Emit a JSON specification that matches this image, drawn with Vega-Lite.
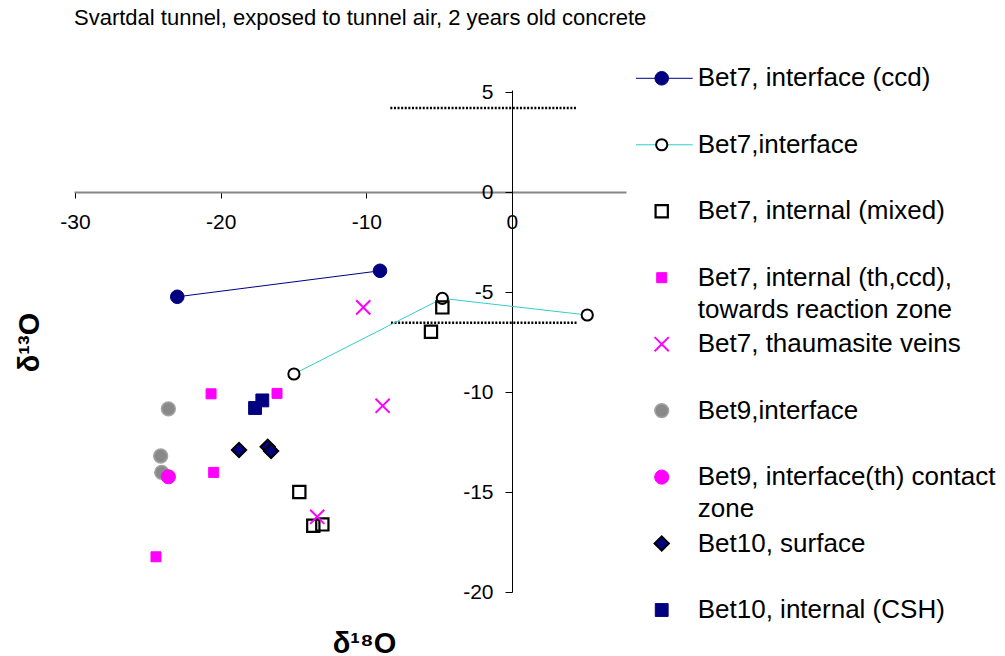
{
  "$schema": "https://vega.github.io/schema/vega-lite/v6.json",
  "width": 552,
  "height": 502,
  "autosize": {"type": "none"},
  "padding": {"left": 74, "top": 90, "right": 379, "bottom": 64},
  "title": {
    "text": "Svartdal tunnel, exposed to tunnel air, 2 years old concrete",
    "anchor": "start",
    "frame": "group",
    "fontSize": 22,
    "fontWeight": "normal",
    "color": "#000000",
    "baseline": "alphabetic",
    "offset": 18
  },
  "config": {
    "view": {"stroke": null},
    "font": "Liberation Sans",
    "axis": {"labelFont": "Liberation Sans", "titleFont": "Liberation Sans"},
    "text": {"font": "Liberation Sans"},
    "title": {"font": "Liberation Sans"}
  },
  "datasets": {
    "points": [
      {"series": "Bet7, interface (ccd)", "x": -22.98, "y": -5.24},
      {"series": "Bet7, interface (ccd)", "x": -9.06, "y": -3.94},
      {"series": "Bet7,interface", "x": -14.97, "y": -9.1},
      {"series": "Bet7,interface", "x": -4.78, "y": -5.32},
      {"series": "Bet7,interface", "x": 5.17, "y": -6.15},
      {"series": "Bet7, internal (mixed)", "x": -4.78, "y": -5.77},
      {"series": "Bet7, internal (mixed)", "x": -5.56, "y": -6.99},
      {"series": "Bet7, internal (mixed)", "x": -14.6, "y": -15.0},
      {"series": "Bet7, internal (mixed)", "x": -13.64, "y": -16.69},
      {"series": "Bet7, internal (mixed)", "x": -13.02, "y": -16.62},
      {"series": "Bet7, internal (th,ccd), towards reaction zone", "x": -20.66, "y": -10.09},
      {"series": "Bet7, internal (th,ccd), towards reaction zone", "x": -16.13, "y": -10.07},
      {"series": "Bet7, internal (th,ccd), towards reaction zone", "x": -20.48, "y": -14.02},
      {"series": "Bet7, internal (th,ccd), towards reaction zone", "x": -24.44, "y": -18.24},
      {"series": "Bet7, thaumasite veins", "x": -10.21, "y": -5.77},
      {"series": "Bet7, thaumasite veins", "x": -8.88, "y": -10.69},
      {"series": "Bet7, thaumasite veins", "x": -13.37, "y": -16.24},
      {"series": "Bet9,interface", "x": -23.59, "y": -10.84},
      {"series": "Bet9,interface", "x": -24.12, "y": -13.2},
      {"series": "Bet9,interface", "x": -24.05, "y": -14.02},
      {"series": "Bet9, interface(th) contact zone", "x": -23.59, "y": -14.24},
      {"series": "Bet10, surface", "x": -18.74, "y": -12.9},
      {"series": "Bet10, surface", "x": -16.77, "y": -12.74},
      {"series": "Bet10, surface", "x": -16.54, "y": -12.95},
      {"series": "Bet10, internal (CSH)", "x": -17.14, "y": -10.42},
      {"series": "Bet10, internal (CSH)", "x": -17.64, "y": -10.8}
    ],
    "refs": [
      {"x": -8.35, "x2": 4.46, "y": 4.2},
      {"x": -8.31, "x2": 4.44, "y": -6.54}
    ],
    "legend": [
      {"series": "Bet7, interface (ccd)", "label": "Bet7, interface (ccd)", "row": 0},
      {"series": "Bet7,interface", "label": "Bet7,interface", "row": 1},
      {"series": "Bet7, internal (mixed)", "label": "Bet7, internal (mixed)", "row": 2},
      {"series": "Bet7, internal (th,ccd), towards reaction zone", "label": "Bet7, internal (th,ccd),\ntowards reaction zone", "row": 3},
      {"series": "Bet7, thaumasite veins", "label": "Bet7, thaumasite veins", "row": 4},
      {"series": "Bet9,interface", "label": "Bet9,interface", "row": 5},
      {"series": "Bet9, interface(th) contact zone", "label": "Bet9, interface(th) contact\nzone", "row": 6},
      {"series": "Bet10, surface", "label": "Bet10, surface", "row": 7},
      {"series": "Bet10, internal (CSH)", "label": "Bet10, internal (CSH)", "row": 8}
    ],
    "legendLines": [
      {"series": "Bet7, interface (ccd)", "row": 0},
      {"series": "Bet7,interface", "row": 1}
    ]
  },
  "layer": [
    {
      "layer": [
        {
          "mark": {"type": "rule", "color": "#868686", "strokeWidth": 2},
          "encoding": {"y": {"datum": 5.1, "type": "quantitative"}}
        },
        {
          "mark": {"type": "rule", "color": "#868686", "strokeWidth": 2},
          "encoding": {"y": {"datum": -20, "type": "quantitative"}}
        },
        {
          "mark": {"type": "rule", "color": "#868686", "strokeWidth": 2},
          "encoding": {"x": {"datum": -30.07, "type": "quantitative"}}
        },
        {
          "data": {"name": "refs"},
          "mark": {"type": "rule", "color": "#000000", "strokeWidth": 2.5, "strokeDash": [2, 1.6]},
          "encoding": {
            "x": {"field": "x", "type": "quantitative"},
            "x2": {"field": "x2"},
            "y": {"field": "y", "type": "quantitative"}
          }
        },
        {
          "data": {"name": "points"},
          "transform": [{"filter": "datum.series === 'Bet7, interface (ccd)' || datum.series === 'Bet7,interface'"}],
          "mark": {"type": "line", "strokeWidth": 1},
          "encoding": {
            "x": {"field": "x", "type": "quantitative"},
            "y": {"field": "y", "type": "quantitative"},
            "color": {
              "field": "series", "type": "nominal", "legend": null,
              "scale": {"domain": ["Bet7, interface (ccd)", "Bet7,interface"], "range": ["#000080", "#33CCCC"]}
            }
          }
        },
        {
          "data": {"name": "points"},
          "mark": {"type": "point", "opacity": 1},
          "encoding": {
            "x": {
              "field": "x", "type": "quantitative",
              "scale": {"domain": [-30.07, 7.83], "nice": false, "zero": false},
              "axis": {
                "orient": "bottom", "offset": -400, "values": [-30, -20, -10, 0], "grid": false,
                "domainColor": "#868686", "domainWidth": 2, "tickColor": "#000000", "tickWidth": 1, "tickSize": 6,
                "labelFontSize": 21, "labelColor": "#000000", "labelPadding": 13, "labelFlush": false, "labelOverlap": false,
                "labelExpr": "toString(datum.value)",
                "title": "δ¹⁸O", "titleFontSize": 29, "titleFontWeight": "bold", "titleColor": "#000000",
                "titleX": 290, "titleY": 460, "titleAlign": "center", "titleBaseline": "alphabetic"
              }
            },
            "y": {
              "field": "y", "type": "quantitative",
              "scale": {"domain": [-20, 5.1], "nice": false, "zero": false},
              "axis": {
                "orient": "left", "offset": -438, "values": [-20, -15, -10, -5, 0, 5], "grid": false,
                "domainColor": "#000000", "domainWidth": 1, "tickColor": "#000000", "tickWidth": 1, "tickSize": 7,
                "labelFontSize": 21, "labelColor": "#000000", "labelPadding": 12, "labelFlush": false, "labelOverlap": false,
                "labelExpr": "toString(datum.value)",
                "title": "δ¹³O", "titleFontSize": 29, "titleFontWeight": "bold", "titleColor": "#000000",
                "titleX": -474, "titleY": 252, "titleAngle": 270, "titleAlign": "center", "titleBaseline": "alphabetic"
              }
            },
            "shape": {
              "field": "series", "type": "nominal", "legend": null,
              "scale": {
                "domain": ["Bet7, interface (ccd)", "Bet7,interface", "Bet7, internal (mixed)", "Bet7, internal (th,ccd), towards reaction zone", "Bet7, thaumasite veins", "Bet9,interface", "Bet9, interface(th) contact zone", "Bet10, surface", "Bet10, internal (CSH)"],
                "range": ["circle", "circle", "square", "square", "M-1,-1L1,1M-1,1L1,-1", "circle", "circle", "diamond", "square"]
              }
            },
            "fill": {
              "field": "series", "type": "nominal", "legend": null,
              "scale": {
                "domain": ["Bet7, interface (ccd)", "Bet7,interface", "Bet7, internal (mixed)", "Bet7, internal (th,ccd), towards reaction zone", "Bet7, thaumasite veins", "Bet9,interface", "Bet9, interface(th) contact zone", "Bet10, surface", "Bet10, internal (CSH)"],
                "range": ["#000080", "#FFFFFF", "transparent", "#FF00FF", "transparent", "#898989", "#FF00FF", "#000080", "#000080"]
              }
            },
            "stroke": {
              "field": "series", "type": "nominal", "legend": null,
              "scale": {
                "domain": ["Bet7, interface (ccd)", "Bet7,interface", "Bet7, internal (mixed)", "Bet7, internal (th,ccd), towards reaction zone", "Bet7, thaumasite veins", "Bet9,interface", "Bet9, interface(th) contact zone", "Bet10, surface", "Bet10, internal (CSH)"],
                "range": ["#000080", "#000000", "#000000", "#FF00FF", "#FF00FF", "#A3A3A3", "#FF00FF", "#000000", "#000080"]
              }
            },
            "size": {
              "field": "series", "type": "nominal", "legend": null,
              "scale": {
                "type": "ordinal",
                "domain": ["Bet7, interface (ccd)", "Bet7,interface", "Bet7, internal (mixed)", "Bet7, internal (th,ccd), towards reaction zone", "Bet7, thaumasite veins", "Bet9,interface", "Bet9, interface(th) contact zone", "Bet10, surface", "Bet10, internal (CSH)"],
                "range": [185, 125, 150, 100, 200, 190, 200, 205, 165]
              }
            },
            "strokeWidth": {
              "field": "series", "type": "nominal", "legend": null,
              "scale": {
                "type": "ordinal",
                "domain": ["Bet7, interface (ccd)", "Bet7,interface", "Bet7, internal (mixed)", "Bet7, internal (th,ccd), towards reaction zone", "Bet7, thaumasite veins", "Bet9,interface", "Bet9, interface(th) contact zone", "Bet10, surface", "Bet10, internal (CSH)"],
                "range": [1, 2, 2.2, 1, 2, 1.5, 1, 2, 1]
              }
            }
          }
        }
      ]
    },
    {
      "layer": [
        {
          "data": {"name": "legendLines"},
          "mark": {"type": "rule", "strokeWidth": 1},
          "encoding": {
            "x": {"datum": -0.714, "type": "quantitative", "scale": {"domain": [-16.325, -0.992], "nice": false, "zero": false}, "axis": null},
            "x2": {"datum": 0.861},
            "y": {"field": "row", "type": "quantitative", "scale": {"domain": [0.176, 7.729], "reverse": true, "nice": false, "zero": false}, "axis": null},
            "color": {"field": "series", "type": "nominal", "legend": null}
          }
        },
        {
          "data": {"name": "legend"},
          "mark": {"type": "point", "opacity": 1},
          "encoding": {
            "x": {"datum": 0, "type": "quantitative", "axis": null},
            "y": {"field": "row", "type": "quantitative", "axis": null},
            "shape": {"field": "series", "type": "nominal", "legend": null},
            "fill": {"field": "series", "type": "nominal", "legend": null},
            "stroke": {"field": "series", "type": "nominal", "legend": null},
            "size": {
              "field": "series", "type": "nominal", "legend": null,
              "scale": {
                "type": "ordinal",
                "domain": ["Bet7, interface (ccd)", "Bet7,interface", "Bet7, internal (mixed)", "Bet7, internal (th,ccd), towards reaction zone", "Bet7, thaumasite veins", "Bet9,interface", "Bet9, interface(th) contact zone", "Bet10, surface", "Bet10, internal (CSH)"],
                "range": [185, 125, 150, 100, 200, 190, 200, 205, 165]
              }
            },
            "strokeWidth": {
              "field": "series", "type": "nominal", "legend": null,
              "scale": {
                "type": "ordinal",
                "domain": ["Bet7, interface (ccd)", "Bet7,interface", "Bet7, internal (mixed)", "Bet7, internal (th,ccd), towards reaction zone", "Bet7, thaumasite veins", "Bet9,interface", "Bet9, interface(th) contact zone", "Bet10, surface", "Bet10, internal (CSH)"],
                "range": [1, 2, 2.2, 1, 2, 1.5, 1, 2, 1]
              }
            }
          }
        },
        {
          "data": {"name": "legend"},
          "mark": {"type": "text", "align": "left", "baseline": "middle", "fontSize": 26, "lineBreak": "\n", "lineHeight": 32, "color": "#000000"},
          "encoding": {
            "x": {"datum": 1, "type": "quantitative", "axis": null},
            "y": {"field": "row", "type": "quantitative", "axis": null},
            "text": {"field": "label"}
          }
        }
      ]
    }
  ],
  "resolve": {"scale": {"x": "independent", "y": "independent"}}
}
